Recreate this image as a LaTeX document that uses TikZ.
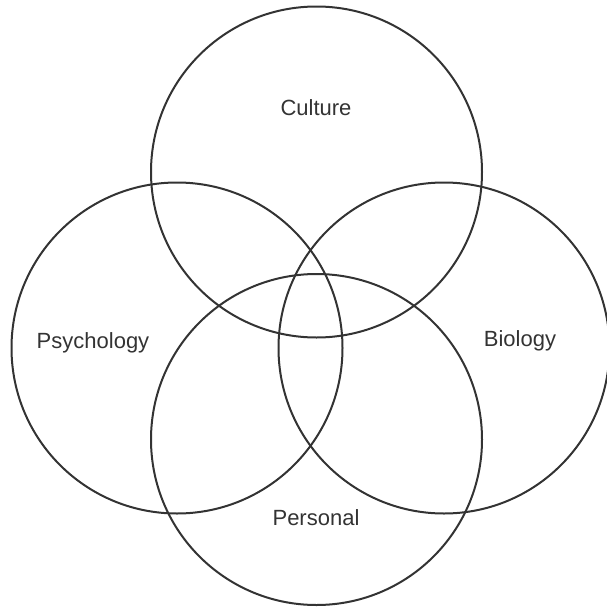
\documentclass[tikz,border=0pt]{standalone}
\usepackage{fontspec}
\setmainfont{Liberation Sans}
\definecolor{ink}{HTML}{333333}
\begin{document}
\begin{tikzpicture}[x=1pt,y=-1pt,
  ring/.style={draw=ink,line width=2pt,circle,minimum size=331pt,inner sep=0pt},
  lbl/.style={text=ink,font=\fontsize{22}{26}\selectfont,inner sep=0pt}]
\useasboundingbox (0,0) rectangle (607,608);
\node[ring] (culture) at (316.5,172) {};
\node[ring] (psych) at (177,348) {};
\node[ring] (bio) at (444,348) {};
\node[ring] (personal) at (316.5,439.5) {};
\node[lbl] (tc) at (316,108) {Culture};
\node[lbl] (tp) at (93,343) {Psychology};
\node[lbl] (tb) at (520,341) {Biology};
\node[lbl] (tq) at (316,518) {Personal};
\end{tikzpicture}
\end{document}
